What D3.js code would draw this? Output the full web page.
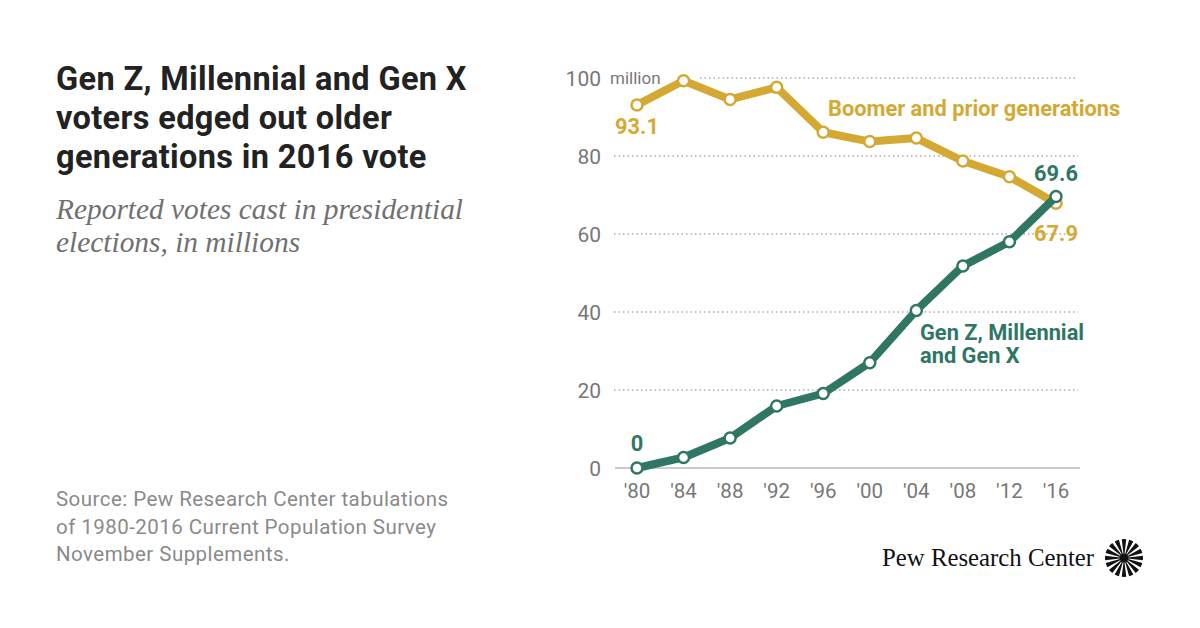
<html>
<head>
<meta charset="utf-8">
<style>
  body{margin:0;background:#fff;}
  text{font-family:Roboto, "Liberation Sans", sans-serif;}
</style>
</head>
<body>
<svg width="1200" height="628"></svg>
<script src="https://cdn.jsdelivr.net/npm/d3@7/dist/d3.min.js"></script>
<script>

var years   = [1980,1984,1988,1992,1996,2000,2004,2008,2012,2016];
var yearLbl = ["'80","'84","'88","'92","'96","'00","'04","'08","'12","'16"];
var boomer  = [93.1,99.3,94.5,97.6,86.1,83.7,84.6,78.7,74.7,67.9];
var younger = [0,2.7,7.7,15.9,19.1,27.0,40.4,51.8,58.0,69.6];
var yTicks  = [0,20,40,60,80,100];

var gold = "#d3a933", green = "#2f7665";

var svg = d3.select("svg");

var x = d3.scaleLinear().domain([1980,2016]).range([637,1056]);
var y = d3.scaleLinear().domain([0,100]).range([468,78]);

// title block
var title = svg.append("text")
  .attr("x",56).attr("y",90)
  .attr("font-size",32.5).attr("font-weight","bold").attr("fill","#222")
  .attr("letter-spacing",0.35);
["Gen Z, Millennial and Gen X","voters edged out older","generations in 2016 vote"].forEach(function(t,i){
  title.append("tspan").attr("x",56).attr("dy",i?39:0).text(t);
});

var sub = svg.append("text")
  .attr("x",56).attr("y",219)
  .attr("font-size",29.4).attr("font-style","italic").attr("fill","#707070")
  .style("font-family","'Liberation Serif', serif");
["Reported votes cast in presidential","elections, in millions"].forEach(function(t,i){
  sub.append("tspan").attr("x",56).attr("dy",i?33:0).text(t);
});

var src = svg.append("text")
  .attr("x",56).attr("y",506)
  .attr("font-size",20.5).attr("fill","#8a8a8a").attr("letter-spacing",0.45);
["Source: Pew Research Center tabulations","of 1980-2016 Current Population Survey","November Supplements."].forEach(function(t,i){
  src.append("tspan").attr("x",56).attr("dy",i?27.5:0).text(t);
});

// grid
var g = svg.append("g");
g.selectAll("line.grid").data(yTicks.filter(function(d){return d>0;}))
  .enter().append("line")
  .attr("class","grid")
  .attr("x1",function(d){return d==100?700:614;})
  .attr("x2",1078)
  .attr("y1",function(d){return y(d);}).attr("y2",function(d){return y(d);})
  .attr("stroke","#aaa").attr("stroke-width",1.3).attr("stroke-dasharray","1.5,3");

g.append("line").attr("x1",615).attr("x2",1080)
  .attr("y1",y(0)).attr("y2",y(0)).attr("stroke","#bbb").attr("stroke-width",1.5);

g.selectAll("text.yt").data(yTicks).enter().append("text")
  .attr("class","yt")
  .attr("x",601).attr("y",function(d){return y(d)+7.5;})
  .attr("text-anchor","end").attr("font-size",21).attr("fill","#777")
  .text(function(d){return d;});
g.append("text").attr("x",610).attr("y",y(100)+6)
  .attr("font-size",17).attr("fill","#777").text("million");

g.selectAll("text.xt").data(years).enter().append("text")
  .attr("class","xt")
  .attr("x",function(d){return x(d);}).attr("y",498)
  .attr("text-anchor","middle").attr("font-size",20.5).attr("fill","#777")
  .text(function(d,i){return yearLbl[i];});

// lines
var line = d3.line().x(function(d,i){return x(years[i]);}).y(function(d){return y(d);});

function series(vals,col){
  svg.append("path").datum(vals).attr("d",line)
    .attr("fill","none").attr("stroke",col).attr("stroke-width",8)
    .attr("stroke-linejoin","round");
  svg.append("g").selectAll("circle").data(vals).enter().append("circle")
    .attr("cx",function(d,i){return x(years[i]);})
    .attr("cy",function(d){return y(d);})
    .attr("r",5.5).attr("fill","#fff").attr("stroke",col).attr("stroke-width",2.5);
}
series(boomer,gold);
series(younger,green);

// labels
function lbl(t,xx,yy,col,anchor){
  svg.append("text").attr("x",xx).attr("y",yy)
    .attr("text-anchor",anchor||"start")
    .attr("font-size",21.8).attr("font-weight","bold").attr("fill",col).text(t);
}
lbl("Boomer and prior generations",828,116,gold);
lbl(boomer[0].toFixed(1),x(1980),134,gold,"middle");
lbl(boomer[9].toFixed(1),x(2016),241,gold,"middle");
lbl(younger[9].toFixed(1),x(2016),181,green,"middle");
lbl(String(younger[0]),x(1980),451,green,"middle");
lbl("Gen Z, Millennial",920,340,green);
lbl("and Gen X",920,363,green);

// logo
svg.append("text").attr("x",882).attr("y",566)
  .attr("font-size",24.8).attr("fill","#111")
  .style("font-family","'Liberation Serif', serif")
  .text("Pew Research Center");
var logo = svg.append("g").attr("transform","translate(1124,558)");
d3.range(16).forEach(function(i){
  var a = i*Math.PI/8;
  logo.append("path")
    .attr("d", d3.arc()({innerRadius:4,outerRadius:19,startAngle:a-0.12,endAngle:a+0.12}))
    .attr("fill","#111");
});
logo.append("circle").attr("r",4.5).attr("fill","#111");

</script>
</body>
</html>
